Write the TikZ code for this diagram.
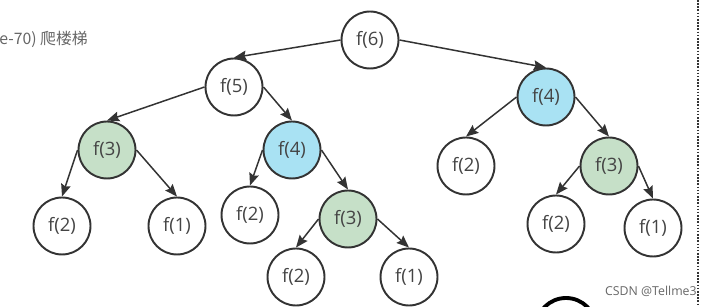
\documentclass[tikz,border=0pt]{standalone}
\usepackage{xcolor}
\usepackage{fontspec}
\setmainfont{Open Sans}
\newfontfamily\cjk{Noto Sans CJK SC}
\usepackage{tikz}
\usetikzlibrary{arrows.meta}
\definecolor{ink}{HTML}{333333}
\definecolor{txt}{HTML}{444444}
\definecolor{greenf}{HTML}{C6E0C8}
\definecolor{bluef}{HTML}{A9E2F3}
\definecolor{note}{HTML}{666666}

\begin{document}
\begin{tikzpicture}[x=0.02cm, y=-0.02cm,
  fnode/.style={circle, draw=ink, line width=1.1pt, minimum size=1.14cm, inner sep=0pt,
    text=txt, font=\fontsize{10.5}{12}\selectfont},
  edge/.style={draw=ink, line width=0.85pt, -{Stealth[length=7pt, width=5.6pt, inset=1pt]}}]
  \useasboundingbox (0,0) rectangle (714,307);
  % Call tree nodes
  \foreach \name/\x/\y/\lab/\col in {
      n6/370/40/f(6)/white, n5/234/87/f(5)/white, n4r/546/97/f(4)/bluef,
      n3l/107/150/f(3)/greenf, n4m/292/150/f(4)/bluef,
      n2r/466/166/f(2)/white, n3r/609/166/f(3)/greenf,
      n2a/62/226/f(2)/white, n1a/177/226/f(1)/white,
      n2b/250/215/f(2)/white, n3m/348/219/f(3)/greenf,
      n2c/296/277/f(2)/white, n1c/409/277/f(1)/white,
      n2d/556/224/f(2)/white, n1d/653/228/f(1)/white} {
    \node[fnode, fill=\col] (\name) at (\x,\y) {\lab};
  }
  % Calls
  \foreach \p/\s/\c in {n6/west/n5, n6/east/n4r, n5/west/n3l, n5/east/n4m,
      n3l/west/n2a, n3l/east/n1a, n4m/west/n2b, n4m/east/n3m,
      n3m/west/n2c, n3m/east/n1c, n4r/west/n2r, n4r/east/n3r,
      n3r/west/n2d, n3r/east/n1d} {
    \draw[edge] (\p.\s) -- (\c.north);
  }
  % Page decorations
  \node[anchor=west, inner sep=0pt, text=note, font=\cjk\fontsize{9}{10}\selectfont] (title) at (-1,39) {e-70) 爬楼梯};
  \coordinate (dtop) at (698,0);
  \coordinate (dbot) at (698,307);
  \draw[ink, line width=1.1pt, dash pattern=on 0.9pt off 0.9pt] (dtop) -- (dbot);
  \node[anchor=east, inner sep=0pt, text=note, font=\fontsize{7}{8}\selectfont] (mark) at (697,291) {CSDN @Tellme3};
  \begin{scope}
    \clip (0,0) rectangle (714,307);
    \draw[black, line width=2.2pt] (566,328) circle[radius=30];
  \end{scope}
\end{tikzpicture}
\end{document}
